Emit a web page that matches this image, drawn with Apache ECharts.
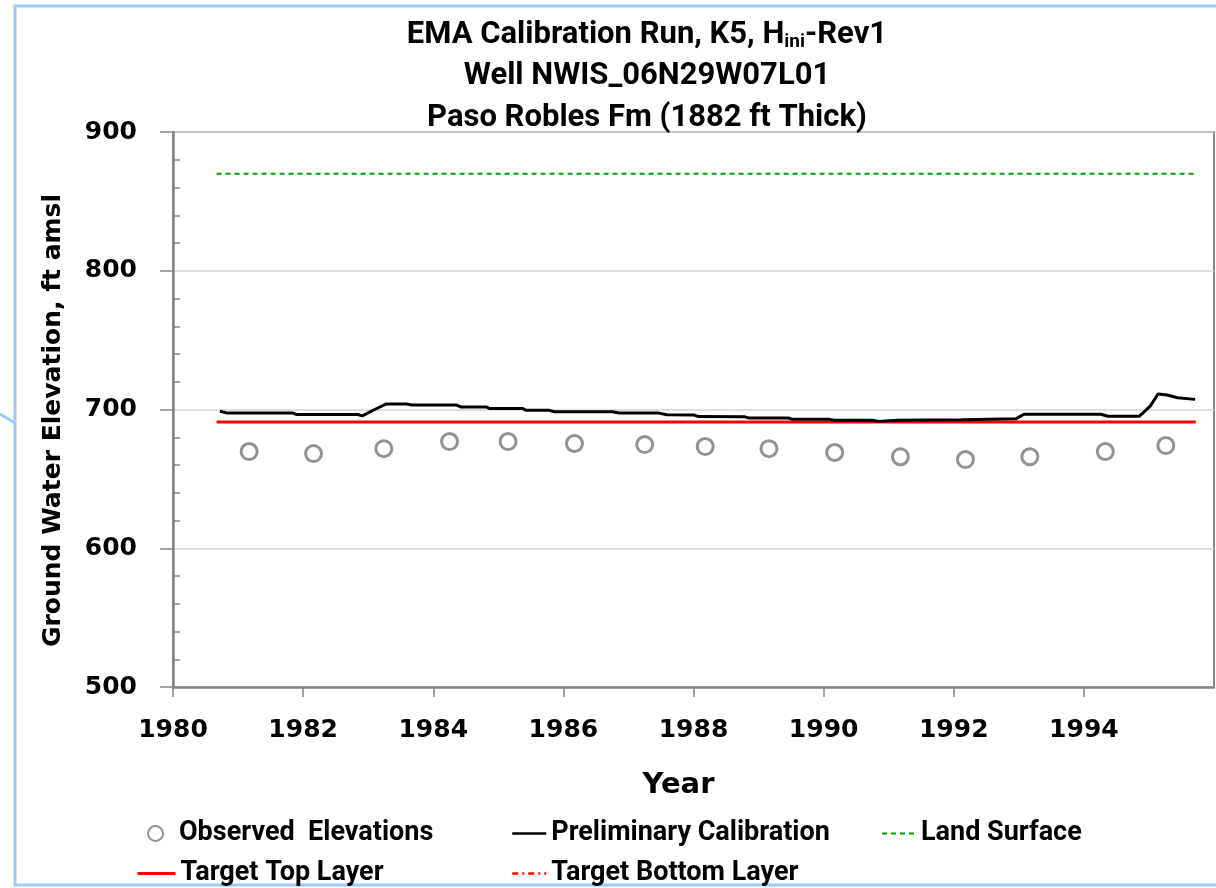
<!DOCTYPE html>
<html>
<head>
<meta charset="utf-8">
<script src="https://cdn.jsdelivr.net/npm/echarts@6/dist/echarts.min.js"></script>
<style>
  html, body { margin: 0; padding: 0; background: #fff; }
  #chart { width: 1216px; height: 888px; }
</style>
</head>
<body>
<div id="chart"></div>
<script>
// observed well levels (year, ft amsl)
var observedYears = [1981.17, 1982.16, 1983.24, 1984.25, 1985.15, 1986.17, 1987.25, 1988.18,
  1989.16, 1990.17, 1991.18, 1992.18, 1993.17, 1994.33, 1995.26];
var observedValues = [669.7, 668.2, 671.8, 676.9, 676.9, 675.5, 674.7, 673.3,
  671.8, 669.0, 666.0, 663.9, 666.0, 669.7, 674.0];

// preliminary calibration hydrograph
var calibYears = [1980.72, 1980.84, 1981.84, 1981.90, 1982.84, 1982.91, 1983.10, 1983.28, 1983.59, 1983.67,
  1984.36, 1984.43, 1984.82, 1984.86, 1985.37, 1985.43, 1985.78, 1985.86, 1986.75, 1986.86,
  1987.47, 1987.59, 1988.01, 1988.08, 1988.79, 1988.85, 1989.46, 1989.52, 1990.09, 1990.17,
  1990.77, 1990.84, 1991.13, 1992.12, 1992.96, 1993.08, 1994.26, 1994.37, 1994.85, 1995.02,
  1995.14, 1995.28, 1995.44, 1995.71];
var calibValues = [698.7, 697.4, 697.4, 696.4, 696.4, 695.4, 700.0, 704.0, 704.0, 703.2,
  703.2, 701.8, 701.8, 700.8, 700.8, 699.4, 699.4, 698.4, 698.4, 697.5,
  697.4, 696.2, 696.0, 694.9, 694.7, 693.9, 693.9, 692.9, 692.9, 692.2,
  692.2, 691.3, 692.2, 692.7, 693.4, 696.6, 696.6, 695.1, 695.1, 702.4,
  711.2, 710.4, 708.5, 707.3];

// constant reference levels
var levelYears = [1980.67, 1995.72];
var landSurface = [870, 870];
var targetTop = [691, 691];
var targetBottom = []; // below the plotted range

var legendNames = ['Observed  Elevations', 'Preliminary Calibration', 'Land Surface',
  'Target Top Layer', 'Target Bottom Layer'];

function pairs(xs, ys) {
  var out = [];
  for (var i = 0; i < ys.length; i++) out.push([xs[i], ys[i]]);
  return out;
}

var calibriFont = "'Liberation Sans Narrow', 'Roboto', 'Liberation Sans', sans-serif";
var axisFont = "'DejaVu Sans', Verdana, sans-serif";
var axisGray = '#868686';

var myChart = echarts.init(document.getElementById('chart'));

var titleStyle = {
  fontFamily: calibriFont,
  fontWeight: 'bold',
  fontSize: 31,
  color: '#000',
  rich: {
    sub: { fontFamily: calibriFont, fontWeight: 'bold', fontSize: 19, color: '#000', padding: [14, 0, 0, 0] }
  }
};

function legendBox(name, left, top, extra) {
  var l = {
    data: [name],
    left: left,
    top: top,
    padding: 0,
    itemWidth: 34,
    itemHeight: 14,
    selectedMode: false,
    itemStyle: { opacity: 0 },
    lineStyle: { width: 3 },
    textStyle: { fontFamily: calibriFont, fontWeight: 'bold', fontSize: 27, color: '#000' }
  };
  for (var k in extra) l[k] = extra[k];
  return l;
}

myChart.setOption({
  animation: false,
  backgroundColor: '#fff',
  title: [
    { text: 'EMA Calibration Run, K5, H{sub|ini}-Rev1', left: 642, top: 14, textAlign: 'center', textStyle: titleStyle },
    { text: 'Well NWIS_06N29W07L01', left: 642, top: 56, textAlign: 'center', textStyle: titleStyle },
    { text: 'Paso Robles Fm (1882 ft Thick)', left: 642, top: 98, textAlign: 'center', textStyle: titleStyle }
  ],
  graphic: [
    {
      type: 'rect',
      shape: { x: 15, y: 6, width: 1230, height: 879 },
      style: { fill: 'none', stroke: '#9ccbf7', lineWidth: 3 },
      silent: true
    },
    {
      type: 'line',
      shape: { x1: 0, y1: 414, x2: 15, y2: 423 },
      style: { stroke: '#9ccbf7', lineWidth: 3 },
      silent: true
    }
  ],
  legend: [
    legendBox(legendNames[0], 147, 820, {
      itemWidth: 15,
      itemHeight: 15,
      itemStyle: {},
      textStyle: { fontFamily: calibriFont, fontWeight: 'bold', fontSize: 27, color: '#000', padding: [0, 0, 0, 11] }
    }),
    legendBox(legendNames[1], 511, 820, { lineStyle: { width: 2.5 } }),
    legendBox(legendNames[2], 881, 820, { lineStyle: { width: 2 } }),
    legendBox(legendNames[3], 136, 860, { itemWidth: 38 }),
    legendBox(legendNames[4], 511, 860, { lineStyle: { width: 2.5 } })
  ],
  grid: {
    left: 173,
    right: 2,
    top: 132,
    bottom: 201,
    outerBoundsMode: 'none',
    show: true,
    borderColor: axisGray,
    borderWidth: 2,
    backgroundColor: 'transparent'
  },
  xAxis: {
    type: 'value',
    min: 1980,
    max: 1996,
    interval: 2,
    name: 'Year',
    nameLocation: 'middle',
    nameGap: 84,
    nameTextStyle: { fontFamily: axisFont, fontWeight: 'bold', fontSize: 29, color: '#000', padding: [0, 30, 0, 0] },
    axisLine: { lineStyle: { color: axisGray, width: 2.5 } },
    axisTick: { length: 10, lineStyle: { color: axisGray, width: 1.5 } },
    axisLabel: {
      margin: 31,
      showMaxLabel: false,
      formatter: function (v) { return String(v); },
      fontFamily: axisFont, fontWeight: 'bold', fontSize: 25, color: '#000'
    },
    splitLine: { show: false }
  },
  yAxis: [
    {
      type: 'value',
      min: 500,
      max: 900,
      interval: 100,
      name: 'Ground Water Elevation, ft amsl',
      nameLocation: 'middle',
      nameRotate: 90,
      nameGap: 107,
      nameTextStyle: { fontFamily: axisFont, fontWeight: 'bold', fontSize: 25, color: '#000', padding: [0, 22, 0, 0] },
      axisLine: { show: true, lineStyle: { color: axisGray, width: 2.5 } },
      axisTick: { length: 13, lineStyle: { color: axisGray, width: 1.5 } },
      axisLabel: { margin: 36, fontFamily: axisFont, fontWeight: 'bold', fontSize: 25, color: '#000' },
      splitLine: { lineStyle: { color: '#d4d4d4', width: 1.5 } }
    },
    {
      type: 'value',
      min: 500,
      max: 900,
      interval: 100,
      position: 'left',
      axisLine: { show: false },
      axisTick: { show: false, inside: true },
      minorTick: { show: true, splitNumber: 5, length: 7, lineStyle: { color: axisGray, width: 1.5 } },
      axisLabel: { show: false },
      splitLine: { show: false }
    }
  ],
  series: [
    {
      name: legendNames[0],
      type: 'scatter',
      data: pairs(observedYears, observedValues),
      symbol: 'circle',
      symbolSize: 16,
      itemStyle: { color: '#fff', borderColor: '#777', borderWidth: 3 },
      z: 3
    },
    {
      name: legendNames[1],
      type: 'line',
      data: pairs(calibYears, calibValues),
      showSymbol: false,
      symbol: 'none',
      lineStyle: { color: '#000', width: 3 },
      itemStyle: { color: '#000' },
      z: 4
    },
    {
      name: legendNames[2],
      type: 'line',
      data: pairs(levelYears, landSurface),
      symbol: 'none',
      lineStyle: { color: '#00a000', width: 2, type: [5, 4] },
      itemStyle: { color: '#00a000' }
    },
    {
      name: legendNames[3],
      type: 'line',
      data: pairs(levelYears, targetTop),
      symbol: 'none',
      lineStyle: { color: '#ff0000', width: 3 },
      itemStyle: { color: '#ff0000' },
      z: 3
    },
    {
      name: legendNames[4],
      type: 'line',
      data: targetBottom,
      symbol: 'none',
      lineStyle: { color: '#ff0000', width: 2.5, type: [6, 4, 2, 4] },
      itemStyle: { color: '#ff0000' }
    }
  ]
});

window.addEventListener('resize', function () {
  myChart.resize();
});
</script>
</body>
</html>
